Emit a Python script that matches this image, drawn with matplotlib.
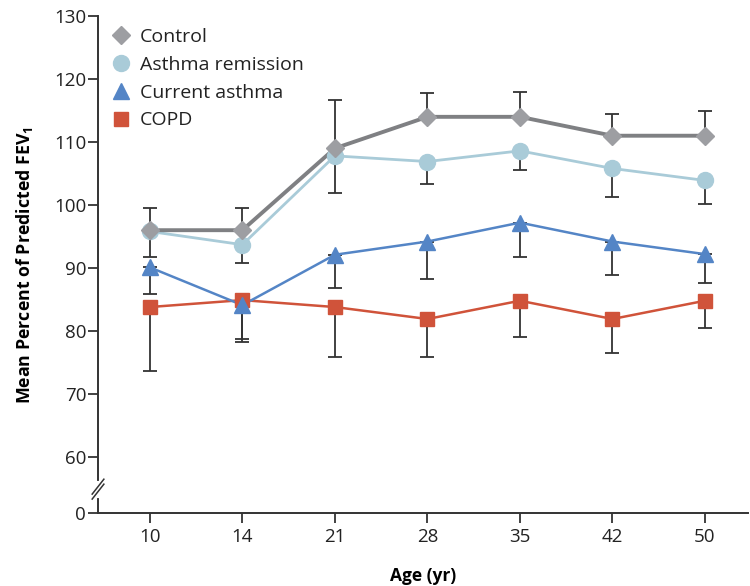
import numpy as np
import matplotlib
matplotlib.use('Agg')
import matplotlib.pyplot as plt
from matplotlib.lines import Line2D

plt.rcParams['font.family'] = ['Open Sans', 'DejaVu Sans']

ages = ['10', '14', '21', '28', '35', '42', '50']

control = [96, 96, 109, 114, 114, 111, 111]
control_hi = [99.5, 99.5, 116.7, 117.8, 117.9, 114.5, 115]
remission = [95.8, 93.7, 107.8, 106.9, 108.6, 105.8, 103.9]
remission_lo = [91.8, 90.8, 101.9, 103.4, 105.6, 101.3, 100.1]
current = [90.1, 84.1, 92.1, 94.2, 97.2, 94.2, 92.2]
current_lo = [85.9, 78.7, 86.9, 88.3, 91.8, 88.9, 87.6]
copd = [83.8, 84.9, 83.8, 81.9, 84.8, 81.9, 84.8]
copd_lo = [73.7, 78.2, 75.8, 75.8, 79.1, 76.5, 80.5]

yticks = [60, 70, 80, 90, 100, 110, 120, 130]
y_bottom = 51.1  # where the "0" sits after the axis break

c_control = '#9d9ea2'
c_control_line = '#7f8083'
c_remission = '#a9cbd8'
c_current = '#5485c6'
c_copd = '#d0533a'
c_err = '#333333'

fig = plt.figure(figsize=(7.5, 5.86), dpi=100)
ax = fig.add_axes([0.1307, 0.1246, 0.866, 0.848])
x = np.arange(len(ages))


def err(vals, hi=None, lo=None):
    vals = np.array(vals)
    up = np.array(hi) - vals if hi is not None else np.zeros(len(vals))
    dn = vals - np.array(lo) if lo is not None else np.zeros(len(vals))
    ax.errorbar(x, vals, yerr=[dn, up], fmt='none', ecolor=c_err,
                elinewidth=1.3, capsize=5, capthick=1.3, zorder=2)


err(control, hi=control_hi)
err(remission, lo=remission_lo)
err(current, lo=current_lo)
err(copd, lo=copd_lo)

ax.plot(x, copd, color=c_copd, lw=1.8, zorder=3)
ax.plot(x, copd, ls='none', marker='s', ms=9.5, color=c_copd, zorder=4)
ax.plot(x, current, color=c_current, lw=1.8, zorder=3)
ax.plot(x, current, ls='none', marker='^', ms=11, color=c_current, zorder=4)
ax.plot(x, remission, color=c_remission, lw=2.0, zorder=3)
ax.plot(x, remission, ls='none', marker='o', ms=11.5, color=c_remission, zorder=4)
ax.plot(x, control, color=c_control_line, lw=2.8, zorder=3)
ax.plot(x, control, ls='none', marker='D', ms=9.5, color=c_control, zorder=4)

ax.set_xlim(-0.56, 6.46)
ax.set_ylim(y_bottom, 130)
ax.set_xticks(x)
ax.set_xticklabels(ages)
ax.set_yticks([y_bottom] + yticks)
ax.set_yticklabels(['0'] + [str(t) for t in yticks])

for s in ['top', 'right']:
    ax.spines[s].set_visible(False)
for s in ['left', 'bottom']:
    ax.spines[s].set_color('#333333')
    ax.spines[s].set_linewidth(1.4)
ax.tick_params(axis='both', length=7, width=1.3, color='#333333',
               labelsize=13.5, labelcolor='#222222', pad=1.5)
ax.tick_params(axis='x', pad=4)

# axis break
kw = dict(transform=ax.transAxes, clip_on=False, zorder=5)
ax.plot([0, 0], [0.035, 0.06], color='white', lw=3, **kw)
ax.plot([-0.009, 0.009], [0.028, 0.058], color='#333333', lw=1.1, **kw)
ax.plot([-0.009, 0.009], [0.038, 0.068], color='#333333', lw=1.1, **kw)

ax.set_ylabel('Mean Percent of Predicted FEV$_\\mathregular{1}$', fontsize=12.8,
              fontweight='bold', labelpad=14)
ax.set_xlabel('Age (yr)', fontsize=12.5, fontweight='bold', labelpad=15)

handles = [
    Line2D([], [], ls='none', marker='D', ms=9.5, color=c_control),
    Line2D([], [], ls='none', marker='o', ms=11.5, color=c_remission),
    Line2D([], [], ls='none', marker='^', ms=11, color=c_current),
    Line2D([], [], ls='none', marker='s', ms=9.5, color=c_copd),
]
labels = ['Control', 'Asthma remission', 'Current asthma', 'COPD']
ax.legend(handles, labels, loc='upper left', bbox_to_anchor=(0.0, 1.003),
          frameon=False, fontsize=14, handlelength=1.0, handletextpad=0.45,
          labelspacing=0.5, borderaxespad=0.3, borderpad=0.4,
          labelcolor='#222222')

fig.savefig('out.png', dpi=100)
